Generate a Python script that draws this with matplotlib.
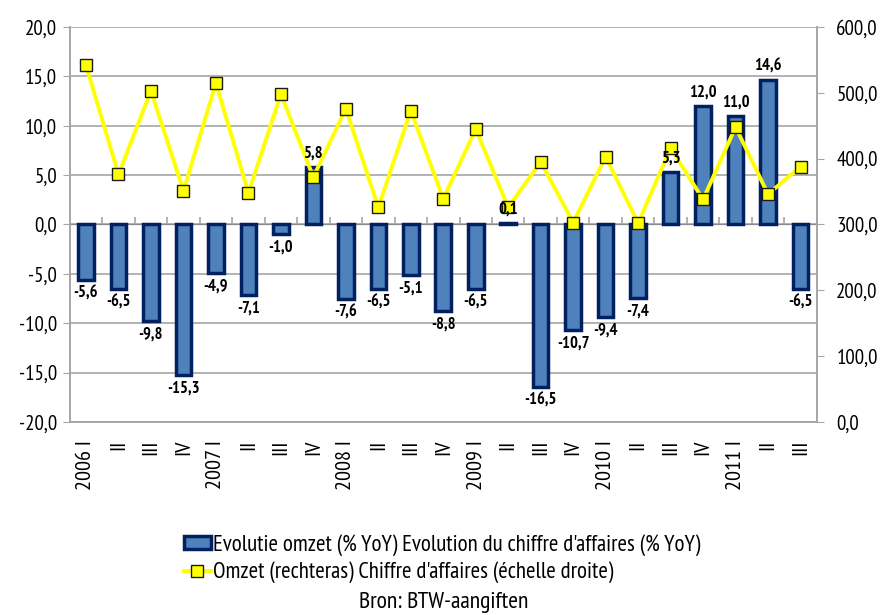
import numpy as np
import matplotlib.pyplot as plt
from matplotlib import font_manager
from matplotlib.lines import Line2D
from matplotlib.patches import Patch

# Kwartalen 2006 I - 2011 III
jaren = ['2006', '2007', '2008', '2009', '2010', '2011']
kwartalen = ['I', 'II', 'III', 'IV']
labels = []
for j in jaren:
    for q in kwartalen:
        labels.append(j + ' ' + q if q == 'I' else q)
labels = labels[:23]

# Evolutie omzet (% YoY)
evolutie = [-5.6, -6.5, -9.8, -15.3, -4.9, -7.1, -1.0, 5.8, -7.6, -6.5, -5.1, -8.8,
            -6.5, 0.1, -16.5, -10.7, -9.4, -7.4, 5.3, 12.0, 11.0, 14.6, -6.5]
# Omzet (rechteras)
omzet = [542, 376, 503, 351, 515, 348, 498, 372, 476, 326, 473, 339,
         445, 326, 395, 303, 403, 302, 416, 338, 448, 346, 388]

# smal lettertype zoals Arial Narrow, als het er is
namen = set(f.name for f in font_manager.fontManager.ttflist)
keuze = [n for n in ['Liberation Sans Narrow', 'Arial Narrow', 'PT Sans Narrow',
                     'Roboto Condensed', 'Archivo Narrow'] if n in namen]
plt.rcParams['font.family'] = keuze[:1] + ['Liberation Sans', 'DejaVu Sans']

grijs = '#A6A6A6'
x = np.arange(len(evolutie))

fig = plt.figure(figsize=(8.83, 6.15), dpi=100)
ax = fig.add_axes([0.079, 0.314, 0.846, 0.642])
ax2 = ax.twinx()

ax.set_zorder(ax2.get_zorder() - 1)
ax.patch.set_visible(True)
ax2.patch.set_visible(False)

ax.bar(x, evolutie, width=0.48, color='#4F81BD', edgecolor='#002060', linewidth=2.5, zorder=3)

ax2.plot(x, omzet, color='#FFFF00', linewidth=2.8, marker='s', markersize=9,
         markerfacecolor='#FFFF00', markeredgecolor='#1a1a1a', markeredgewidth=1.0, zorder=5)

# waarden bij de staven, boven de lijn getekend
for xi, v in zip(x, evolutie):
    txt = ('%.1f' % v).replace('.', ',')
    if v >= 0:
        ax2.annotate(txt, (xi, v), xycoords=ax.transData, xytext=(0, 4), textcoords='offset points',
                     ha='center', va='bottom', fontsize=12, fontweight='bold', zorder=6)
    else:
        ax2.annotate(txt, (xi, v), xycoords=ax.transData, xytext=(0, -4), textcoords='offset points',
                     ha='center', va='top', fontsize=12, fontweight='bold', zorder=6)

ax.set_xlim(-0.5, len(x) - 0.5)
ax.set_ylim(-20, 20)
ax.set_yticks(np.arange(-20, 21, 5))
ax.set_yticklabels([('%.1f' % t).replace('.', ',') for t in np.arange(-20, 21, 5)])
ax2.set_ylim(0, 600)
ax2.set_yticks(np.arange(0, 601, 100))
ax2.set_yticklabels([('%.1f' % t).replace('.', ',') for t in np.arange(0, 601, 100)])

ax.yaxis.grid(True, color=grijs, linewidth=1.2, zorder=0)
ax.set_axisbelow(True)

ax.set_xticks(x)
ax.set_xticklabels(labels, rotation=90, ha='center', va='top', fontsize=16)
ax.tick_params(axis='x', length=0, pad=13)
ax.tick_params(axis='y', labelsize=15, length=5, color=grijs, pad=4)
ax2.tick_params(axis='y', labelsize=15, length=5, color=grijs, pad=9)

for a in (ax, ax2):
    for s in a.spines.values():
        s.set_color(grijs)
        s.set_linewidth(1.2)
    a.spines['top'].set_visible(False)

# nullijn met maatstreepjes tussen de kwartalen
nul = ax.secondary_xaxis(0.5)
nul.set_xticks(np.arange(-0.5, len(x), 1.0))
nul.set_xticklabels([])
nul.tick_params(axis='x', length=5, color=grijs, width=1.2, direction='out')
nul.spines['bottom'].set_color(grijs)
nul.spines['bottom'].set_linewidth(1.2)

handles = [Patch(facecolor='#4F81BD', edgecolor='#002060', linewidth=2.5),
           Line2D([0], [0], color='#FFFF00', linewidth=2.8, marker='s', markersize=8,
                  markerfacecolor='#FFFF00', markeredgecolor='#1a1a1a')]
fig.legend(handles, ["Evolutie omzet (% YoY) Evolution du chiffre d'affaires (% YoY)",
                     "Omzet (rechteras) Chiffre d'affaires (échelle droite)"],
           loc='upper left', bbox_to_anchor=(0.208, 0.132), frameon=False,
           fontsize=16.5, handlelength=1.2, handleheight=0.5, handletextpad=0.1,
           labelspacing=0.25, borderpad=0, borderaxespad=0)
fig.text(0.503, 0.004, 'Bron: BTW-aangiften', ha='center', va='bottom', fontsize=17)

plt.savefig('out.png', dpi=100)
